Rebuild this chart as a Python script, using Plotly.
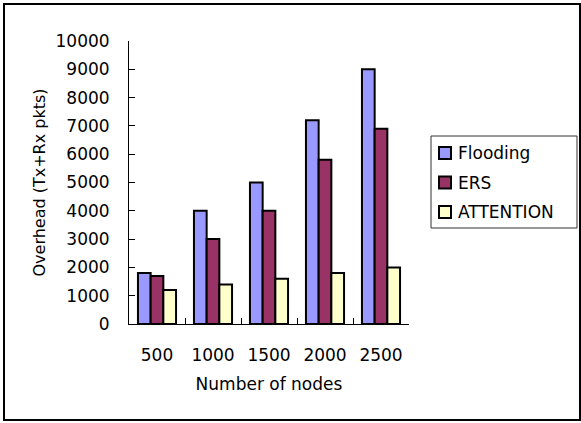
import plotly.graph_objects as go

categories = ["500", "1000", "1500", "2000", "2500"]
flooding = [1800, 4000, 5000, 7200, 9000]
ers = [1700, 3000, 4000, 5800, 6900]
attention = [1200, 1400, 1600, 1800, 2000]
y_ticks = list(range(0, 10001, 1000))
y_ticktext = [str(v) for v in y_ticks]
series_names = ["Flooding", "ERS", "ATTENTION"]
series_colors = ["#9999FF", "#993366", "#FFFFCC"]

FONT = "DejaVu Sans"
FS = 17
W, H = 581, 423
L, R, T, B = 129, 409, 41, 324

fig = go.Figure()
for name, vals, col in zip(series_names, [flooding, ers, attention], series_colors):
    fig.add_trace(go.Bar(x=categories, y=vals, name=name, showlegend=False,
                         marker=dict(color=col, line=dict(color="black", width=2))))

pw, ph = R - L, B - T
def px(x): return (x - L) / pw
def py(y): return (B - y) / ph

shapes = [
    dict(type="rect", xref="paper", yref="paper", x0=px(4), x1=px(580), y0=py(420), y1=py(4),
         line=dict(color="black", width=2), layer="below"),
    dict(type="rect", xref="paper", yref="paper", x0=px(431), x1=px(577), y0=py(228), y1=py(136),
         line=dict(color="#333333", width=1), fillcolor="white", layer="below"),
]
annotations = []
for i, (name, col) in enumerate(zip(series_names, series_colors)):
    cy = 153 + i * 29.5
    shapes.append(dict(type="rect", xref="paper", yref="paper",
                       x0=px(439), x1=px(451), y0=py(cy + 6), y1=py(cy - 6),
                       line=dict(color="black", width=2), fillcolor=col))
    annotations.append(dict(text=name, xref="paper", yref="paper", x=px(456), y=py(cy),
                            xanchor="left", yanchor="middle", showarrow=False,
                            font=dict(family=FONT, size=FS, color="black")))

fig.update_layout(
    width=W, height=H,
    margin=dict(l=L, r=W - R, t=T, b=H - B, pad=0),
    paper_bgcolor="white", plot_bgcolor="white",
    font=dict(family=FONT, size=FS, color="black"),
    barmode="group", bargap=0.32, bargroupgap=0,
    showlegend=False,
    xaxis=dict(type="category", showline=True, linecolor="black", linewidth=1,
               ticks="inside", tickson="boundaries", ticklen=6, tickcolor="black",
               ticklabelstandoff=16,
               title=dict(text="Number of nodes", font=dict(size=FS), standoff=13),
               showgrid=False, zeroline=False),
    yaxis=dict(range=[0, 10000], tickvals=y_ticks, ticktext=y_ticktext, showline=True,
               linecolor="black", linewidth=1,
               ticks="inside", ticklen=6, tickcolor="black", ticklabelstandoff=15,
               title=dict(text="Overhead (Tx+Rx pkts)", font=dict(size=16), standoff=5),
               showgrid=False, zeroline=False),
    shapes=shapes,
    annotations=annotations,
)

fig.write_html("out.html")
